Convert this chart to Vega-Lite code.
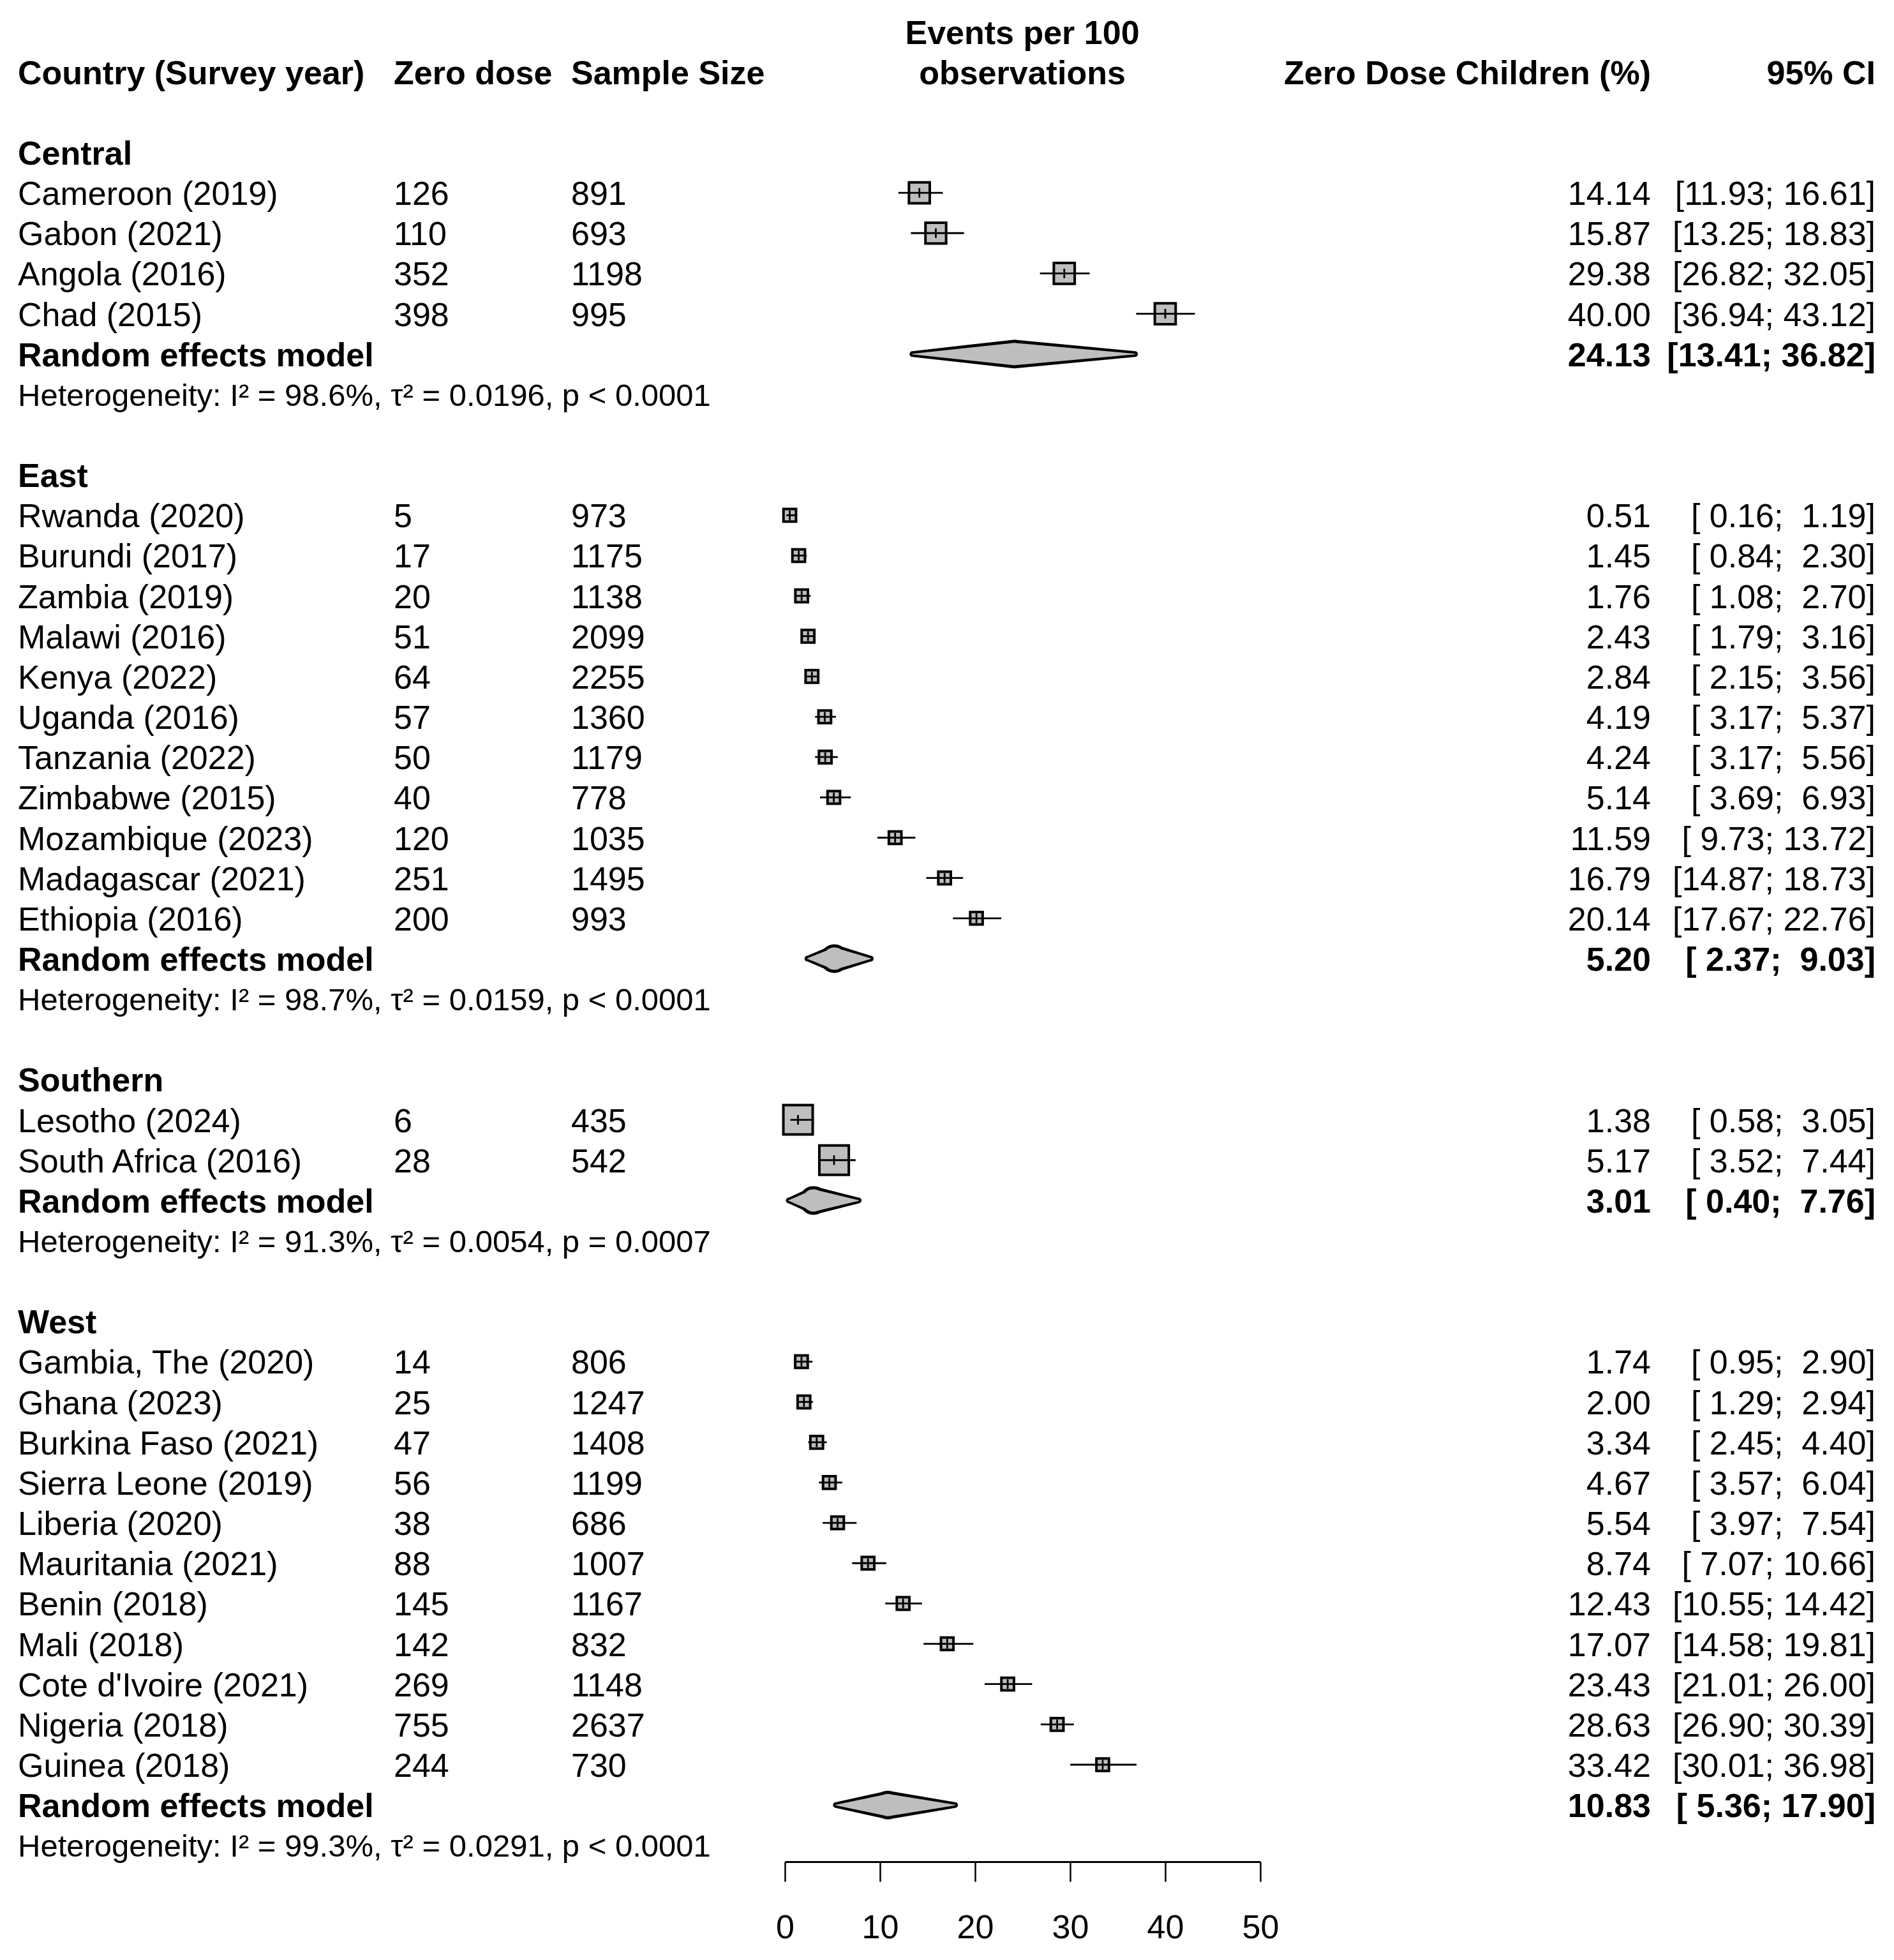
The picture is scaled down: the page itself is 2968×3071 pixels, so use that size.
{
  "$schema": "https://vega.github.io/schema/vega-lite/v6.json",
  "width": 2968,
  "height": 2917,
  "autosize": {"type": "none"},
  "padding": {"left": 0, "top": 0, "right": 0, "bottom": 154},
  "background": "white",
  "config": {
    "view": {"stroke": null},
    "font": "Liberation Sans",
    "text": {"font": "Liberation Sans", "fontSize": 52, "color": "black", "baseline": "alphabetic", "dy": 19}
  },
  "data": {
    "values": [
      {"key": "hdr1", "kind": "head1", "events": "Events per 100"},
      {"key": "hdr2", "kind": "head", "label": "Country (Survey year)", "zd": "Zero dose", "n": "Sample Size", "events": "observations", "pct": "Zero Dose Children (%)", "ci": "95% CI"},
      {"key": "Central", "kind": "group", "label": "Central"},
      {"key": "Cameroon (2019)", "kind": "study", "label": "Cameroon (2019)", "zd": "126", "n": "891", "est": 14.14, "lo": 11.93, "hi": 16.61, "pct": "14.14", "ci": "[11.93; 16.61]", "w": 25.0},
      {"key": "Gabon (2021)", "kind": "study", "label": "Gabon (2021)", "zd": "110", "n": "693", "est": 15.87, "lo": 13.25, "hi": 18.83, "pct": "15.87", "ci": "[13.25; 18.83]", "w": 24.7},
      {"key": "Angola (2016)", "kind": "study", "label": "Angola (2016)", "zd": "352", "n": "1198", "est": 29.38, "lo": 26.82, "hi": 32.05, "pct": "29.38", "ci": "[26.82; 32.05]", "w": 25.2},
      {"key": "Chad (2015)", "kind": "study", "label": "Chad (2015)", "zd": "398", "n": "995", "est": 40.0, "lo": 36.94, "hi": 43.12, "pct": "40.00", "ci": "[36.94; 43.12]", "w": 25.1},
      {"key": "REM Central", "kind": "pooled", "label": "Random effects model", "est": 24.13, "lo": 13.41, "hi": 36.82, "pct": "24.13", "ci": "[13.41; 36.82]"},
      {"key": "Het Central", "kind": "het", "label": "Heterogeneity: I² = 98.6%, τ² = 0.0196, p < 0.0001"},
      {"key": "East", "kind": "group", "label": "East"},
      {"key": "Rwanda (2020)", "kind": "study", "label": "Rwanda (2020)", "zd": "5", "n": "973", "est": 0.51, "lo": 0.16, "hi": 1.19, "pct": "0.51", "ci": "[\u00a00.16;\u00a0\u00a01.19]", "w": 9.1},
      {"key": "Burundi (2017)", "kind": "study", "label": "Burundi (2017)", "zd": "17", "n": "1175", "est": 1.45, "lo": 0.84, "hi": 2.3, "pct": "1.45", "ci": "[\u00a00.84;\u00a0\u00a02.30]", "w": 9.1},
      {"key": "Zambia (2019)", "kind": "study", "label": "Zambia (2019)", "zd": "20", "n": "1138", "est": 1.76, "lo": 1.08, "hi": 2.7, "pct": "1.76", "ci": "[\u00a01.08;\u00a0\u00a02.70]", "w": 9.1},
      {"key": "Malawi (2016)", "kind": "study", "label": "Malawi (2016)", "zd": "51", "n": "2099", "est": 2.43, "lo": 1.79, "hi": 3.16, "pct": "2.43", "ci": "[\u00a01.79;\u00a0\u00a03.16]", "w": 9.2},
      {"key": "Kenya (2022)", "kind": "study", "label": "Kenya (2022)", "zd": "64", "n": "2255", "est": 2.84, "lo": 2.15, "hi": 3.56, "pct": "2.84", "ci": "[\u00a02.15;\u00a0\u00a03.56]", "w": 9.2},
      {"key": "Uganda (2016)", "kind": "study", "label": "Uganda (2016)", "zd": "57", "n": "1360", "est": 4.19, "lo": 3.17, "hi": 5.37, "pct": "4.19", "ci": "[\u00a03.17;\u00a0\u00a05.37]", "w": 9.1},
      {"key": "Tanzania (2022)", "kind": "study", "label": "Tanzania (2022)", "zd": "50", "n": "1179", "est": 4.24, "lo": 3.17, "hi": 5.56, "pct": "4.24", "ci": "[\u00a03.17;\u00a0\u00a05.56]", "w": 9.1},
      {"key": "Zimbabwe (2015)", "kind": "study", "label": "Zimbabwe (2015)", "zd": "40", "n": "778", "est": 5.14, "lo": 3.69, "hi": 6.93, "pct": "5.14", "ci": "[\u00a03.69;\u00a0\u00a06.93]", "w": 9.0},
      {"key": "Mozambique (2023)", "kind": "study", "label": "Mozambique (2023)", "zd": "120", "n": "1035", "est": 11.59, "lo": 9.73, "hi": 13.72, "pct": "11.59", "ci": "[\u00a09.73; 13.72]", "w": 9.1},
      {"key": "Madagascar (2021)", "kind": "study", "label": "Madagascar (2021)", "zd": "251", "n": "1495", "est": 16.79, "lo": 14.87, "hi": 18.73, "pct": "16.79", "ci": "[14.87; 18.73]", "w": 9.1},
      {"key": "Ethiopia (2016)", "kind": "study", "label": "Ethiopia (2016)", "zd": "200", "n": "993", "est": 20.14, "lo": 17.67, "hi": 22.76, "pct": "20.14", "ci": "[17.67; 22.76]", "w": 9.0},
      {"key": "REM East", "kind": "pooled", "label": "Random effects model", "est": 5.2, "lo": 2.37, "hi": 9.03, "pct": "5.20", "ci": "[\u00a02.37;\u00a0\u00a09.03]"},
      {"key": "Het East", "kind": "het", "label": "Heterogeneity: I² = 98.7%, τ² = 0.0159, p < 0.0001"},
      {"key": "Southern", "kind": "group", "label": "Southern"},
      {"key": "Lesotho (2024)", "kind": "study", "label": "Lesotho (2024)", "zd": "6", "n": "435", "est": 1.38, "lo": 0.58, "hi": 3.05, "pct": "1.38", "ci": "[\u00a00.58;\u00a0\u00a03.05]", "w": 49.8},
      {"key": "South Africa (2016)", "kind": "study", "label": "South Africa (2016)", "zd": "28", "n": "542", "est": 5.17, "lo": 3.52, "hi": 7.44, "pct": "5.17", "ci": "[\u00a03.52;\u00a0\u00a07.44]", "w": 50.2},
      {"key": "REM Southern", "kind": "pooled", "label": "Random effects model", "est": 3.01, "lo": 0.4, "hi": 7.76, "pct": "3.01", "ci": "[\u00a00.40;\u00a0\u00a07.76]"},
      {"key": "Het Southern", "kind": "het", "label": "Heterogeneity: I² = 91.3%, τ² = 0.0054, p = 0.0007"},
      {"key": "West", "kind": "group", "label": "West"},
      {"key": "Gambia, The (2020)", "kind": "study", "label": "Gambia, The (2020)", "zd": "14", "n": "806", "est": 1.74, "lo": 0.95, "hi": 2.9, "pct": "1.74", "ci": "[\u00a00.95;\u00a0\u00a02.90]", "w": 9.0},
      {"key": "Ghana (2023)", "kind": "study", "label": "Ghana (2023)", "zd": "25", "n": "1247", "est": 2.0, "lo": 1.29, "hi": 2.94, "pct": "2.00", "ci": "[\u00a01.29;\u00a0\u00a02.94]", "w": 9.1},
      {"key": "Burkina Faso (2021)", "kind": "study", "label": "Burkina Faso (2021)", "zd": "47", "n": "1408", "est": 3.34, "lo": 2.45, "hi": 4.4, "pct": "3.34", "ci": "[\u00a02.45;\u00a0\u00a04.40]", "w": 9.2},
      {"key": "Sierra Leone (2019)", "kind": "study", "label": "Sierra Leone (2019)", "zd": "56", "n": "1199", "est": 4.67, "lo": 3.57, "hi": 6.04, "pct": "4.67", "ci": "[\u00a03.57;\u00a0\u00a06.04]", "w": 9.1},
      {"key": "Liberia (2020)", "kind": "study", "label": "Liberia (2020)", "zd": "38", "n": "686", "est": 5.54, "lo": 3.97, "hi": 7.54, "pct": "5.54", "ci": "[\u00a03.97;\u00a0\u00a07.54]", "w": 9.0},
      {"key": "Mauritania (2021)", "kind": "study", "label": "Mauritania (2021)", "zd": "88", "n": "1007", "est": 8.74, "lo": 7.07, "hi": 10.66, "pct": "8.74", "ci": "[\u00a07.07; 10.66]", "w": 9.1},
      {"key": "Benin (2018)", "kind": "study", "label": "Benin (2018)", "zd": "145", "n": "1167", "est": 12.43, "lo": 10.55, "hi": 14.42, "pct": "12.43", "ci": "[10.55; 14.42]", "w": 9.1},
      {"key": "Mali (2018)", "kind": "study", "label": "Mali (2018)", "zd": "142", "n": "832", "est": 17.07, "lo": 14.58, "hi": 19.81, "pct": "17.07", "ci": "[14.58; 19.81]", "w": 9.0},
      {"key": "Cote d'Ivoire (2021)", "kind": "study", "label": "Cote d'Ivoire (2021)", "zd": "269", "n": "1148", "est": 23.43, "lo": 21.01, "hi": 26.0, "pct": "23.43", "ci": "[21.01; 26.00]", "w": 9.1},
      {"key": "Nigeria (2018)", "kind": "study", "label": "Nigeria (2018)", "zd": "755", "n": "2637", "est": 28.63, "lo": 26.9, "hi": 30.39, "pct": "28.63", "ci": "[26.90; 30.39]", "w": 9.2},
      {"key": "Guinea (2018)", "kind": "study", "label": "Guinea (2018)", "zd": "244", "n": "730", "est": 33.42, "lo": 30.01, "hi": 36.98, "pct": "33.42", "ci": "[30.01; 36.98]", "w": 9.0},
      {"key": "REM West", "kind": "pooled", "label": "Random effects model", "est": 10.83, "lo": 5.36, "hi": 17.9, "pct": "10.83", "ci": "[\u00a05.36; 17.90]"},
      {"key": "Het West", "kind": "het", "label": "Heterogeneity: I² = 99.3%, τ² = 0.0291, p < 0.0001"}
    ]
  },
  "encoding": {
    "y": {
      "field": "key",
      "type": "nominal",
      "axis": null,
      "scale": {
        "type": "point",
        "padding": 0,
        "range": [49.5, 2891.3],
        "domain": ["hdr1", "hdr2", "sp1", "Central", "Cameroon (2019)", "Gabon (2021)", "Angola (2016)", "Chad (2015)", "REM Central", "Het Central", "sp2", "East", "Rwanda (2020)", "Burundi (2017)", "Zambia (2019)", "Malawi (2016)", "Kenya (2022)", "Uganda (2016)", "Tanzania (2022)", "Zimbabwe (2015)", "Mozambique (2023)", "Madagascar (2021)", "Ethiopia (2016)", "REM East", "Het East", "sp3", "Southern", "Lesotho (2024)", "South Africa (2016)", "REM Southern", "Het Southern", "sp4", "West", "Gambia, The (2020)", "Ghana (2023)", "Burkina Faso (2021)", "Sierra Leone (2019)", "Liberia (2020)", "Mauritania (2021)", "Benin (2018)", "Mali (2018)", "Cote d'Ivoire (2021)", "Nigeria (2018)", "Guinea (2018)", "REM West", "Het West"]
      }
    }
  },
  "layer": [
    {
      "transform": [{"filter": {"field": "kind", "equal": "study"}}],
      "mark": {"type": "square", "filled": true, "fill": "#BEBEBE", "stroke": "black", "strokeWidth": 4, "opacity": 1},
      "encoding": {
        "x": {
          "field": "est", "type": "quantitative", "title": null,
          "scale": {"domain": [0, 50], "range": [1230, 1975], "nice": false, "zero": false},
          "axis": {"values": [0, 10, 20, 30, 40, 50], "format": "d", "grid": false, "title": null, "domainColor": "black", "domainWidth": 3, "tickColor": "black", "tickWidth": 2.5, "tickSize": 31, "labelFont": "Liberation Sans", "labelFontSize": 52, "labelColor": "black", "labelPadding": 47, "labelFlush": false, "labelOverlap": false}
        },
        "size": {"field": "w", "type": "quantitative", "scale": {"domain": [0, 100], "range": [0, 4250]}, "legend": null}
      }
    },
    {
      "transform": [{"filter": {"field": "kind", "equal": "study"}}],
      "mark": {"type": "rule", "color": "black", "strokeWidth": 2.8},
      "encoding": {
        "x": {"field": "lo", "type": "quantitative"},
        "x2": {"field": "hi"}
      }
    },
    {
      "transform": [{"filter": {"field": "kind", "equal": "study"}}],
      "mark": {"type": "tick", "color": "black", "thickness": 2.8, "size": 15, "opacity": 1, "orient": "vertical"},
      "encoding": {
        "x": {"field": "est", "type": "quantitative"}
      }
    },
    {
      "transform": [{"filter": {"field": "kind", "equal": "pooled"}}, {"fold": ["lo", "est", "hi"], "as": ["vertex", "xv"]}],
      "mark": {"type": "trail", "color": "black", "opacity": 1},
      "encoding": {
        "x": {"field": "xv", "type": "quantitative"},
        "detail": {"field": "key"},
        "order": {"field": "xv", "type": "quantitative"},
        "size": {"field": "vertex", "type": "nominal", "scale": {"type": "ordinal", "domain": ["lo", "est", "hi"], "range": [9, 45, 9]}, "legend": null}
      }
    },
    {
      "transform": [{"filter": {"field": "kind", "equal": "pooled"}}, {"fold": ["lo", "est", "hi"], "as": ["vertex", "xv"]}],
      "mark": {"type": "trail", "color": "#BEBEBE", "opacity": 1},
      "encoding": {
        "x": {"field": "xv", "type": "quantitative"},
        "detail": {"field": "key"},
        "order": {"field": "xv", "type": "quantitative"},
        "size": {"field": "vertex", "type": "nominal", "scale": {"type": "ordinal", "domain": ["lo", "est", "hi"], "range": [0, 35, 0]}, "legend": null}
      }
    },
    {
      "transform": [{"filter": {"field": "kind", "equal": "study"}}],
      "mark": {"type": "text", "align": "left"},
      "encoding": {"x": {"value": 28}, "text": {"field": "label"}}
    },
    {
      "transform": [{"filter": {"field": "kind", "oneOf": ["head", "group", "pooled"]}}],
      "mark": {"type": "text", "align": "left", "fontWeight": "bold"},
      "encoding": {"x": {"value": 28}, "text": {"field": "label"}}
    },
    {
      "transform": [{"filter": {"field": "kind", "equal": "het"}}],
      "mark": {"type": "text", "align": "left", "fontSize": 49, "dy": 18},
      "encoding": {"x": {"value": 28}, "text": {"field": "label"}}
    },
    {
      "transform": [{"filter": {"field": "kind", "equal": "study"}}],
      "mark": {"type": "text", "align": "left"},
      "encoding": {"x": {"value": 617}, "text": {"field": "zd"}}
    },
    {
      "transform": [{"filter": {"field": "kind", "equal": "head"}}],
      "mark": {"type": "text", "align": "left", "fontWeight": "bold"},
      "encoding": {"x": {"value": 617}, "text": {"field": "zd"}}
    },
    {
      "transform": [{"filter": {"field": "kind", "equal": "study"}}],
      "mark": {"type": "text", "align": "left"},
      "encoding": {"x": {"value": 895}, "text": {"field": "n"}}
    },
    {
      "transform": [{"filter": {"field": "kind", "equal": "head"}}],
      "mark": {"type": "text", "align": "left", "fontWeight": "bold"},
      "encoding": {"x": {"value": 895}, "text": {"field": "n"}}
    },
    {
      "transform": [{"filter": {"field": "kind", "oneOf": ["head1", "head"]}}],
      "mark": {"type": "text", "align": "center", "fontWeight": "bold"},
      "encoding": {"x": {"value": 1602}, "text": {"field": "events"}}
    },
    {
      "transform": [{"filter": {"field": "kind", "equal": "study"}}],
      "mark": {"type": "text", "align": "right"},
      "encoding": {"x": {"value": 2587}, "text": {"field": "pct"}}
    },
    {
      "transform": [{"filter": {"field": "kind", "oneOf": ["head", "pooled"]}}],
      "mark": {"type": "text", "align": "right", "fontWeight": "bold"},
      "encoding": {"x": {"value": 2587}, "text": {"field": "pct"}}
    },
    {
      "transform": [{"filter": {"field": "kind", "equal": "study"}}],
      "mark": {"type": "text", "align": "right"},
      "encoding": {"x": {"value": 2939}, "text": {"field": "ci"}}
    },
    {
      "transform": [{"filter": {"field": "kind", "oneOf": ["head", "pooled"]}}],
      "mark": {"type": "text", "align": "right", "fontWeight": "bold"},
      "encoding": {"x": {"value": 2939}, "text": {"field": "ci"}}
    }
  ],
  "resolve": {"scale": {"size": "independent"}}
}
